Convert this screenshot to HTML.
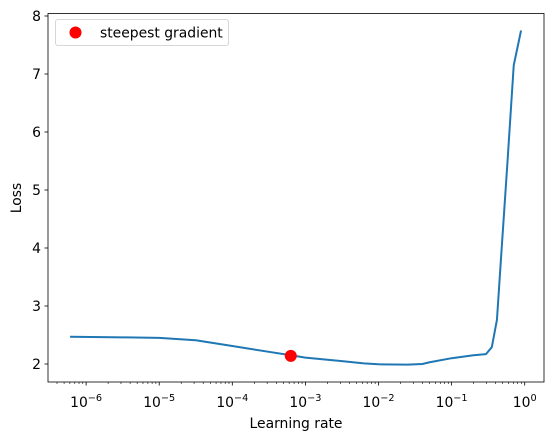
<!DOCTYPE html>
<html><head><meta charset="utf-8"><style>
body{margin:0;background:#fff;}
text{font-family:"DejaVu Sans","Liberation Sans",sans-serif;fill:#000;}
</style></head><body>
<svg id="chart" width="554" height="440" xmlns="http://www.w3.org/2000/svg">
<rect width="554" height="440" fill="#fff"/>
<g id="plot"></g>
</svg>
<script>
const lrLog = [-6.22,-5.5,-5,-4.5,-4,-3.5,-3.2,-3,-2.5,-2.2,-2,-1.6,-1.4,-1.3,-1,-0.7,-0.53,-0.45,-0.38,-0.32,-0.24,-0.15,-0.05];
const loss  = [2.47,2.46,2.45,2.41,2.31,2.21,2.15,2.11,2.05,2.01,1.995,1.99,2.0,2.03,2.10,2.15,2.17,2.29,2.76,3.9,5.4,7.15,7.75];
const markerLog = [-3.2];
const markerLoss = [2.14];
const yTicks = [2,3,4,5,6,7,8];
const xTicks = [-6,-5,-4,-3,-2,-1,0];

const L=48,R=544,T=13.5,B=382;
const xs = v => 524.7 + v*73.1;
const ys = v => 364 - (v-2)*58;
const NS="http://www.w3.org/2000/svg";
const g=document.getElementById('plot');
function el(t,a,p){const e=document.createElementNS(NS,t);for(const k in a)e.setAttribute(k,a[k]);(p||g).appendChild(e);return e;}

for(let d=-7;d<=0;d++){for(let m=2;m<=9;m++){const x=xs(d+Math.log10(m));if(x>L&&x<R){const t=el('line',{x1:x,x2:x,y1:B,y2:B+2,stroke:'#000','stroke-width':0.6});

}}}
xTicks.forEach(v=>{const x=xs(v);
const t=el('line',{x1:x,x2:x,y1:B,y2:B+3.5,stroke:'#000','stroke-width':0.8});


const tx=el('text',{x:x,y:B+25,'text-anchor':'middle','font-size':13.9});


tx.textContent='10';
const sp=el('tspan',{dy:-6,'font-size':9.7},tx);sp.textContent=v===0?'0':'\u2212'+(-v);});
yTicks.forEach(v=>{const y=ys(v);
const t=el('line',{x1:L-3.5,x2:L,y1:y,y2:y,stroke:'#000','stroke-width':0.8});


const tx=el('text',{x:L-7,y:y+5,'text-anchor':'end','font-size':13.9});


tx.textContent=v;});

const line=el('polyline',{points:lrLog.map((v,i)=>xs(v)+','+ys(loss[i])).join(' '),fill:'none',stroke:'#1f77b4','stroke-width':2,'stroke-linejoin':'round'});


markerLog.forEach((v,i)=>{const c=el('circle',{cx:xs(v),cy:ys(markerLoss[i]),r:6,fill:'#ff0000'});

});

const fr=el('rect',{x:L,y:T,width:R-L,height:B-T,fill:'none',stroke:'#000','stroke-width':0.8});



const lg=el('g',{});


el('rect',{x:55.5,y:19.5,width:173,height:26,rx:2.5,fill:'#fff','fill-opacity':0.8,stroke:'#ccc','stroke-width':0.8},lg);
el('circle',{cx:75.5,cy:32.5,r:6,fill:'#ff0000'},lg);
const lt=el('text',{x:100,y:37.5,'font-size':13.9},lg);lt.textContent='steepest gradient';

const xl=el('text',{x:296,y:428,'text-anchor':'middle','font-size':13.9});


xl.textContent='Learning rate';
const yl=el('text',{x:21,y:198,'text-anchor':'middle','font-size':13.9,transform:'rotate(-90 21 198)'});


yl.textContent='Loss';
</script>
</body></html>
